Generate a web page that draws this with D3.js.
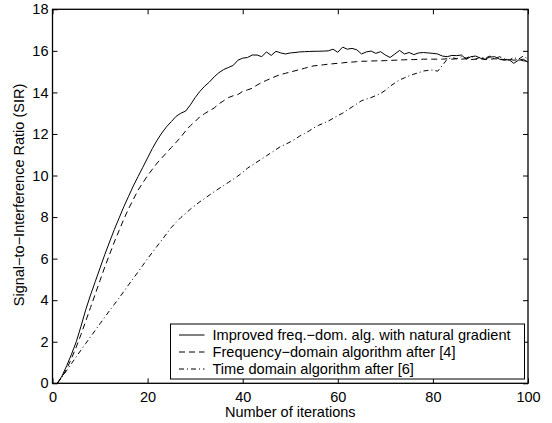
<!DOCTYPE html>
<html>
<head>
<meta charset="utf-8">
<script src="https://cdn.jsdelivr.net/npm/d3@7"></script>
<style>
  body { margin: 0; background: #fff; }
  svg { display: block; font-family: "Liberation Sans", Arial, Helvetica, sans-serif; }
</style>
</head>
<body>
<svg id="chart" width="552" height="423"></svg>
<script>
// ---- data ----
const iterations = d3.range(1, 101);

const improvedNatural = [
  0, 0.35, 0.85, 1.4, 2.0, 2.75, 3.55, 4.25, 4.9, 5.55,
  6.2, 6.8, 7.4, 7.95, 8.5, 9.0, 9.5, 9.95, 10.4, 10.85,
  11.3, 11.7, 12.05, 12.35, 12.6, 12.85, 13.0, 13.1, 13.4, 13.75,
  14.05, 14.3, 14.5, 14.75, 14.95, 15.1, 15.2, 15.3, 15.55, 15.65,
  15.68, 15.8, 15.8, 15.72, 15.95, 15.78, 15.98, 15.9, 15.85, 15.9,
  15.92, 15.95, 15.96, 15.97, 15.98, 15.98, 15.99, 16.0, 16.08, 15.93,
  16.18, 16.08, 16.12, 16.05, 15.85, 15.95, 15.99, 15.88, 15.96, 15.8,
  15.68, 15.85, 16.02, 15.85, 15.92, 15.82, 15.9, 15.92, 15.9, 15.88,
  15.85, 15.75, 15.72, 15.78, 15.77, 15.8, 15.6, 15.72, 15.75, 15.65,
  15.6, 15.7, 15.72, 15.6, 15.55, 15.58, 15.4, 15.55, 15.6, 15.45
];

const freqDomain = [
  0, 0.3, 0.7, 1.2, 1.75, 2.35, 3.0, 3.65, 4.3, 4.95,
  5.6, 6.2, 6.8, 7.35, 7.9, 8.4, 8.85, 9.3, 9.65, 10.0,
  10.3, 10.6, 10.85, 11.1, 11.35, 11.6, 11.85, 12.15, 12.4, 12.6,
  12.83, 12.98, 13.12, 13.25, 13.45, 13.6, 13.75, 13.84, 13.9, 14.05,
  14.12, 14.2, 14.35, 14.48, 14.58, 14.68, 14.78, 14.86, 14.92, 14.98,
  15.04, 15.1, 15.16, 15.23, 15.28, 15.3, 15.33, 15.36, 15.38, 15.4,
  15.42, 15.45, 15.46, 15.48, 15.5, 15.5, 15.51, 15.52, 15.52, 15.53,
  15.54, 15.55, 15.56, 15.57, 15.58, 15.58, 15.59, 15.6, 15.6, 15.6,
  15.6, 15.6, 15.62, 15.6, 15.62, 15.6, 15.62, 15.58, 15.6, 15.62,
  15.58, 15.6, 15.62, 15.6, 15.58, 15.6, 15.55, 15.58, 15.52, 15.5
];

const timeDomain = [
  0, 0.3, 0.62, 0.95, 1.28, 1.6, 1.92, 2.24, 2.55, 2.87,
  3.18, 3.5, 3.8, 4.1, 4.42, 4.74, 5.05, 5.36, 5.68, 6.0,
  6.3, 6.6, 6.9, 7.2, 7.5, 7.75, 7.98, 8.18, 8.38, 8.56,
  8.74, 8.9, 9.06, 9.22, 9.37, 9.52, 9.67, 9.82, 9.98, 10.15,
  10.35, 10.5, 10.65, 10.8, 10.95, 11.1, 11.25, 11.4, 11.5, 11.62,
  11.75, 11.9, 12.02, 12.15, 12.3, 12.42, 12.52, 12.62, 12.75, 12.88,
  13.0, 13.15, 13.3, 13.45, 13.6, 13.68, 13.75, 13.85, 13.95, 14.1,
  14.3, 14.45, 14.6, 14.7, 14.8, 14.88, 14.95, 15.03, 15.06, 15.08,
  15.02, 15.3, 15.6, 15.68, 15.62, 15.72, 15.65, 15.75, 15.6, 15.7,
  15.65, 15.75, 15.6, 15.72, 15.62, 15.55, 15.68, 15.6, 15.75, 15.6
];

const seriesNames = [
  "Improved freq.\u2212dom. alg. with natural gradient",
  "Frequency\u2212domain algorithm after [4]",
  "Time domain algorithm after [6]"
];
const xTicks = [0, 20, 40, 60, 80, 100];
const yTicks = [0, 2, 4, 6, 8, 10, 12, 14, 16, 18];
const xLabel = "Number of iterations";
const yLabel = "Signal\u2212to\u2212Interference Ratio (SIR)";

// ---- layout ----
const svg = d3.select("#chart");
const L = 52.5, R = 528, T = 9.3, B = 383.3;
const x = d3.scaleLinear().domain([0, 100]).range([L, R]);
const y = d3.scaleLinear().domain([0, 18]).range([B, T]);

const styles = [
  { dash: null },
  { dash: "6,4" },
  { dash: "5,3,1,3" }
];
const allSeries = [improvedNatural, freqDomain, timeDomain];

// lines
const line = d3.line().x((d, i) => x(iterations[i])).y(d => y(d));
const plot = svg.append("g");
allSeries.forEach((s, k) => {
  plot.append("path")
    .datum(s)
    .attr("d", line)
    .attr("fill", "none")
    .attr("stroke", "#000")
    .attr("stroke-width", 1)
    .attr("stroke-dasharray", styles[k].dash);
});

// axes with inward ticks on all four sides
const fontSize = 14.5;
const axB = svg.append("g").attr("transform", `translate(0,${B})`)
  .call(d3.axisBottom(x).tickValues(xTicks).tickSize(-5).tickPadding(8.5).tickFormat(d3.format("d")));
const axT = svg.append("g").attr("transform", `translate(0,${T})`)
  .call(d3.axisTop(x).tickValues(xTicks).tickSize(-5).tickFormat(""));
const axL = svg.append("g").attr("transform", `translate(${L},0)`)
  .call(d3.axisLeft(y).tickValues(yTicks).tickSize(-5).tickPadding(4).tickFormat(d3.format("d")));
const axR = svg.append("g").attr("transform", `translate(${R},0)`)
  .call(d3.axisRight(y).tickValues(yTicks).tickSize(-5).tickFormat(""));

[axB, axT, axL, axR].forEach(a => {
  a.select(".domain").remove();
  a.selectAll(".tick line").attr("stroke", "#000").attr("stroke-width", 1);
  a.selectAll(".tick text")
    .attr("font-family", "'Liberation Sans', Arial, Helvetica, sans-serif")
    .attr("font-size", fontSize).attr("fill", "#000");
});

// frame
svg.append("rect")
  .attr("x", L).attr("y", T).attr("width", R - L).attr("height", B - T)
  .attr("fill", "none").attr("stroke", "#000").attr("stroke-width", 1.3);

// axis titles
svg.append("text")
  .attr("x", (L + R) / 2).attr("y", 417)
  .attr("text-anchor", "middle").attr("font-size", 14.5)
  .text(xLabel);
svg.append("text")
  .attr("transform", `translate(23.5,${195}) rotate(-90)`)
  .attr("text-anchor", "middle").attr("font-size", 14.5)
  .text(yLabel);

// legend
const lg = svg.append("g");
const LX = 170.5, LY = 324, LW = 354, LH = 55;
lg.append("rect").attr("x", LX).attr("y", LY).attr("width", LW).attr("height", LH)
  .attr("fill", "#fff").attr("stroke", "#000").attr("stroke-width", 1);
const rowY = [335, 352, 369];
seriesNames.forEach((name, k) => {
  lg.append("line")
    .attr("x1", LX + 8.5).attr("x2", LX + 34).attr("y1", rowY[k]).attr("y2", rowY[k])
    .attr("stroke", "#000").attr("stroke-width", 1)
    .attr("stroke-dasharray", styles[k].dash);
  lg.append("text")
    .attr("x", LX + 42).attr("y", rowY[k]).attr("dy", "0.35em")
    .attr("font-size", 14.6)
    .text(name);
});
</script>
</body>
</html>
